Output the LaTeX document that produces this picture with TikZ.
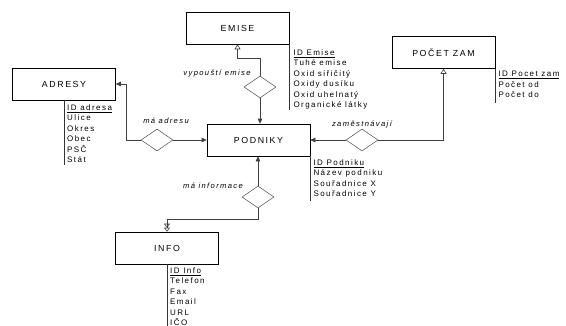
\documentclass[tikz,border=0pt]{standalone}
\usepackage{fontspec}
\setmainfont{Liberation Sans}
\newfontfamily\boxfont[LetterSpace=18]{Liberation Sans}
\newfontfamily\attrfont[LetterSpace=18]{Liberation Sans}
\usetikzlibrary{shapes.geometric,arrows.meta,calc}
\begin{document}
\begin{tikzpicture}[x=1pt,y=-1pt,
  entity/.style={draw=black,line width=0.6pt,minimum width=103pt,minimum height=32pt,inner sep=0pt,font=\boxfont\fontsize{8.8}{10}\selectfont},
  rel/.style={draw=black!70,diamond,line width=0.5pt,minimum width=32pt,minimum height=22pt,inner sep=0pt},
  attrs/.style={anchor=north west,inner sep=0pt,align=left,font=\attrfont\fontsize{8}{10.5}\selectfont},
  rlabel/.style={inner sep=0pt,font=\attrfont\fontsize{7.6}{9}\selectfont\itshape},
  conn/.style={draw=black!75,line width=0.6pt},
  farrow/.style={conn,-{Triangle[length=5pt,width=4.5pt]}},
  harrow/.style={conn,-{Triangle[open,length=5pt,width=6pt]}},
  darrow/.style={conn,-{Triangle[open,length=4pt,width=6pt]Triangle[open,length=4pt,width=6pt]}},
  aline/.style={draw=black!80,line width=0.6pt}]
\useasboundingbox (0,0) rectangle (566,325);
% entities
\node[entity] (emise) at (237.5,28) {EMISE};
\node[entity] (adresy) at (64,84) {ADRESY};
\node[entity] (podniky) at (258.5,140) {PODNIKY};
\node[entity] (pocet) at (443.5,52.5) {POČET ZAM};
\node[entity] (info) at (167,248) {INFO};
% relationships
\node[rel] (dE) at (260,87) {};
\node[rel] (dA) at (157,140) {};
\node[rel] (dP) at (362,140) {};
\node[rel] (dI) at (258,197) {};
% relationship labels
\node[rlabel] (lE) at (217,73) {vypouští emise};
\node[rlabel] (lA) at (166,121) {má adresu};
\node[rlabel] (lP) at (362,124) {zaměstnávají};
\node[rlabel] (lI) at (213,186) {má informace};
% connectors
\draw[harrow] (dE.north) -- ++(0,-17) -| (emise.south);
\draw[farrow] (dE.south) -- (dE.south |- podniky.north);
\draw[farrow] (dA.west) -- ++(-14,0) |- (adresy.east);
\draw[farrow] (dA.east) -- (podniky.west);
\draw[harrow] (dP.east) -| (pocet.south);
\draw[farrow] (dP.west) -- (podniky.east);
\draw[farrow] (dI.north) -- (dI.north |- podniky.south);
\draw[darrow] (dI.south) -- ++(0,11) -| (info.north);
% attribute lines
\coordinate (eE) at ($(emise.south east)+(0,66)$);
\coordinate (eA) at ($(adresy.south)+(0,65)$);
\coordinate (eP) at ($(pocet.south east)+(0,34)$);
\coordinate (eD) at ($(podniky.south east)+(0,45)$);
\coordinate (eI) at ($(info.south)+(0,64)$);
\draw[aline] (emise.south east) -- (eE);
\draw[aline] (adresy.south) -- (eA);
\draw[aline] (pocet.south east) -- (eP);
\draw[aline] (podniky.south east) -- (eD);
\draw[aline] (info.south) -- (eI);
% attributes
\node[attrs] (aE) at ($(emise.south east)+(4,5)$) {\underline{ID Emise}\\Tuhé emise\\Oxid siřičitý\\Oxidy dusíku\\Oxid uhelnatý\\Organické látky};
\node[attrs] (aA) at ($(adresy.south)+(3,4)$) {\underline{ID adresa}\\Ulice\\Okres\\Obec\\PSČ\\Stát};
\node[attrs] (aP) at ($(pocet.south east)+(3,2)$) {\underline{ID Pocet zam}\\Počet od\\Počet do};
\node[attrs] (aD) at ($(podniky.south east)+(3,3)$) {\underline{ID Podniku}\\Název podniku\\Souřadnice X\\Souřadnice Y};
\node[attrs] (aI) at ($(info.south)+(3,3)$) {\underline{ID Info}\\Telefon\\Fax\\Email\\URL\\IČO};
\end{tikzpicture}
\end{document}
